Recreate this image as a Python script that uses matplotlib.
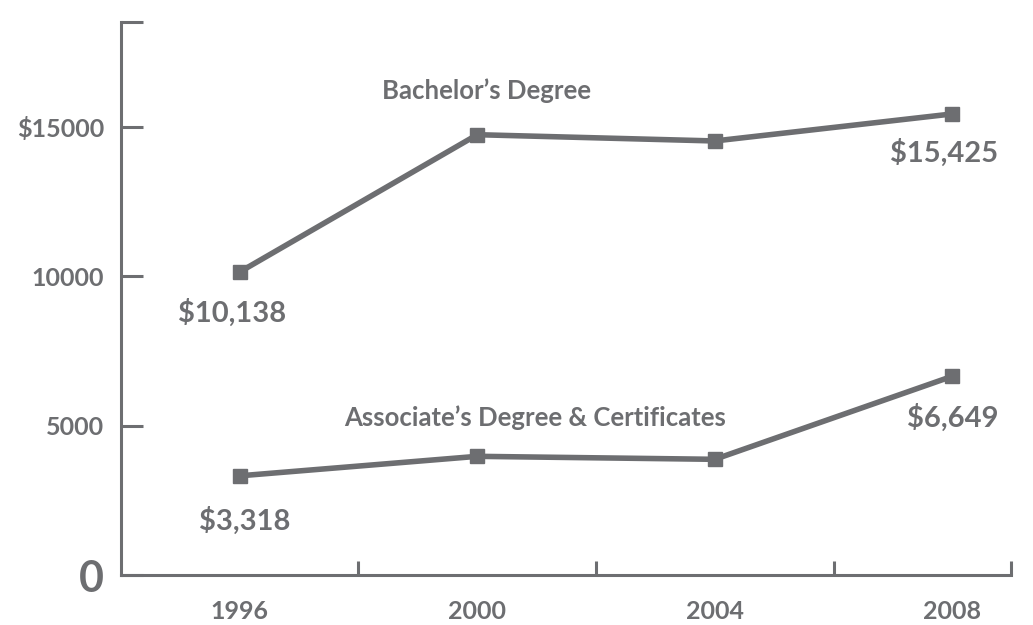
import matplotlib
matplotlib.use("Agg")
import matplotlib.pyplot as plt

years = ["1996", "2000", "2004", "2008"]
bachelor = [10138, 14730, 14520, 15425]
associate = [3318, 3970, 3870, 6649]
bachelor_labels = ["$10,138", "", "", "$15,425"]
associate_labels = ["$3,318", "", "", "$6,649"]
ytick_vals = [0, 5000, 10000, 15000, 18500]
ytick_text = ["0", "5000", "10000", "$15000", ""]

GREY = "#6d6e71"
plt.rcParams['font.family'] = ['Lato', 'DejaVu Sans']
plt.rcParams['font.weight'] = 'bold'

fig = plt.figure(figsize=(10.33, 6.25), dpi=100)
ax = fig.add_axes([0.1171, 0.08, 0.9787 - 0.1171, 0.8848])

x = range(len(years))
ax.plot(x, bachelor, color=GREY, lw=4, marker='s', ms=10.5, solid_joinstyle='miter')
ax.plot(x, associate, color=GREY, lw=4, marker='s', ms=10.5, solid_joinstyle='miter')

ax.set_xlim(-0.5, 3.247)
ax.set_ylim(0, 18500)

for spine in ['top', 'right']:
    ax.spines[spine].set_visible(False)
for spine in ['left', 'bottom']:
    ax.spines[spine].set_color(GREY)
    ax.spines[spine].set_linewidth(2.2)

# y ticks point inward
ax.set_yticks(ytick_vals)
ax.set_yticklabels(ytick_text)
ax.tick_params(axis='y', direction='in', length=16, width=2.2, color=GREY,
               labelcolor=GREY, labelsize=18, pad=12)
for lbl in ax.get_yticklabels():
    if lbl.get_text() == "0":
        lbl.set_fontsize(31)

# x: boundary ticks between bands, labels at band centres
ax.set_xticks([0.5, 1.5, 2.5, 3.247])
ax.set_xticklabels([])
ax.tick_params(axis='x', which='major', direction='in', length=10, width=2.2, color=GREY)
ax.set_xticks(list(x), minor=True)
ax.set_xticklabels(years, minor=True)
ax.tick_params(axis='x', which='minor', length=0, labelcolor=GREY, labelsize=18, pad=18)

offsets_b = [(-8, -41), None, None, (-8, -39)]
offsets_a = [(5, -45), None, None, (0, -42)]
for i in x:
    if bachelor_labels[i]:
        ax.annotate(bachelor_labels[i], (i, bachelor[i]), xytext=offsets_b[i],
                    textcoords='offset pixels', ha='center', va='center',
                    fontsize=21, color=GREY, fontweight='bold')
    if associate_labels[i]:
        ax.annotate(associate_labels[i], (i, associate[i]), xytext=offsets_a[i],
                    textcoords='offset pixels', ha='center', va='center',
                    fontsize=21, color=GREY, fontweight='bold')

ax.text(1.037, 16209, "Bachelor\u2019s Degree", ha='center', va='center',
        fontsize=18.5, color=GREY, fontweight='bold')
ax.text(1.243, 5258, "Associate\u2019s Degree & Certificates", ha='center', va='center',
        fontsize=18.5, color=GREY, fontweight='bold')

fig.savefig("out.png", dpi=100)
